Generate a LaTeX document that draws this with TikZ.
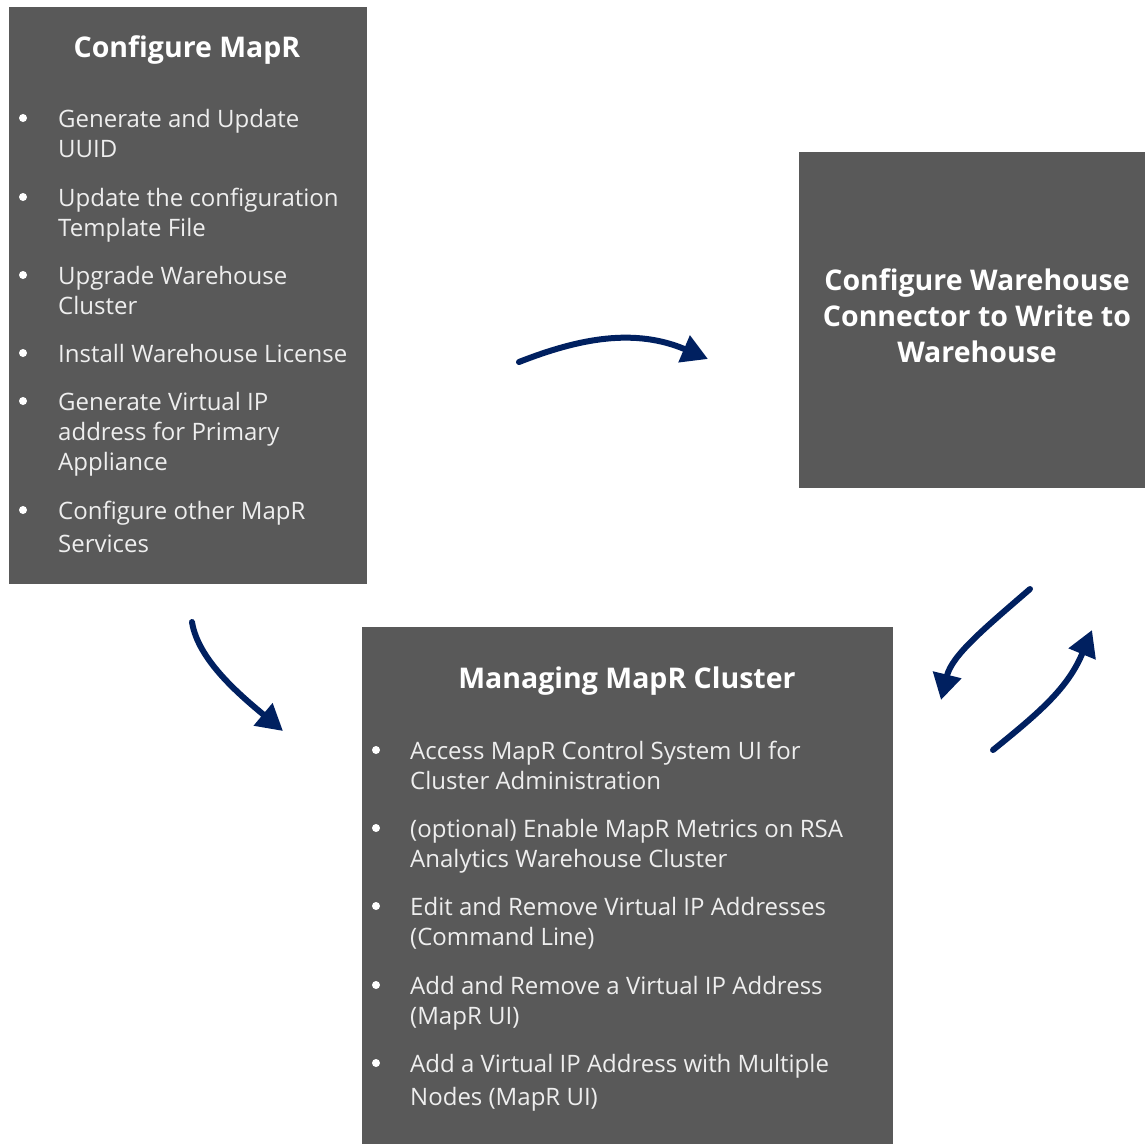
\documentclass[tikz,border=0pt]{standalone}
\usepackage{fontspec}
\setmainfont{Open Sans}
\usetikzlibrary{arrows.meta}
\definecolor{boxgray}{HTML}{595959}
\definecolor{txtgray}{HTML}{EEEEEE}
\definecolor{navy}{HTML}{002060}
\newcommand{\itemtext}[2][30]{\parbox[t]{480pt}{\fontsize{24}{#1}\selectfont\raggedright #2}}
\tikzset{
  box/.style={fill=boxgray, draw=none},
  item/.style={anchor=base west, text=txtgray, inner sep=0pt},
  dot/.style={circle, fill=white, inner sep=0pt, minimum size=8pt},
  title/.style={anchor=base, text=white, inner sep=0pt, align=center, font=\fontsize{28.5}{36}\selectfont\bfseries},
  flow/.style={draw=navy, line width=6pt, line cap=round, -{Triangle[length=26pt,width=28pt]}}
}
\begin{document}
\begin{tikzpicture}[x=1pt,y=-1pt]
\useasboundingbox (0,0) rectangle (1145,1144);
% boxes
\path[box] (9,7) rectangle (367,584);
\path[box] (799,152) rectangle (1145,488);
\path[box] (362,627) rectangle (893,1144);
% box 1
\node[title] (t1) at (187,57) {Configure MapR};
\node[dot] (b11) at (23,118) {};
\node[item] (i11) at (58,127) {\itemtext{Generate and Update\\UUID}};
\node[dot] (b12) at (23,197) {};
\node[item] (i12) at (58,206) {\itemtext{Update the configuration\\Template File}};
\node[dot] (b13) at (23,275) {};
\node[item] (i13) at (58,284) {\itemtext{Upgrade Warehouse\\Cluster}};
\node[dot] (b14) at (23,353) {};
\node[item] (i14) at (58,362) {\itemtext{Install Warehouse License}};
\node[dot] (b15) at (23,401) {};
\node[item] (i15) at (58,410) {\itemtext{Generate Virtual IP\\address for Primary\\Appliance}};
\node[dot] (b16) at (23,510) {};
\node[item] (i16) at (58,519) {\itemtext[33]{Configure other MapR\\Services}};
% box 2
\node[title] (t2) at (977,362) {Configure Warehouse\\Connector to Write to\\Warehouse};
% box 3
\node[title] (t3) at (627,688) {Managing MapR Cluster};
\node[dot] (b31) at (376,750) {};
\node[item] (i31) at (410,759) {\itemtext{Access MapR Control System UI for\\Cluster Administration}};
\node[dot] (b32) at (376,828) {};
\node[item] (i32) at (410,837) {\itemtext{(optional) Enable MapR Metrics on RSA\\Analytics Warehouse Cluster}};
\node[dot] (b33) at (376,906) {};
\node[item] (i33) at (410,915) {\itemtext{Edit and Remove Virtual IP Addresses\\(Command Line)}};
\node[dot] (b34) at (376,985) {};
\node[item] (i34) at (410,994) {\itemtext{Add and Remove a Virtual IP Address\\(MapR UI)}};
\node[dot] (b35) at (376,1063) {};
\node[item] (i35) at (410,1072) {\itemtext[33]{Add a Virtual IP Address with Multiple\\Nodes (MapR UI)}};
% arrows
\coordinate (a1s) at (519,362);
\coordinate (a1e) at (708,359);
\coordinate (a2s) at (192,622);
\coordinate (a2e) at (283,731);
\coordinate (a3s) at (1030,589);
\coordinate (a3e) at (941,700);
\coordinate (a4s) at (993,750);
\coordinate (a4e) at (1092,630);
\draw[flow] (a1s) .. controls (580,338) and (635,328) .. (a1e);
\draw[flow] (a2s) .. controls (198,660) and (240,695) .. (a2e);
\draw[flow] (a3s) .. controls (985,628) and (952,655) .. (a3e);
\draw[flow] (a4s) .. controls (1040,712) and (1068,688) .. (a4e);
\end{tikzpicture}
\end{document}
